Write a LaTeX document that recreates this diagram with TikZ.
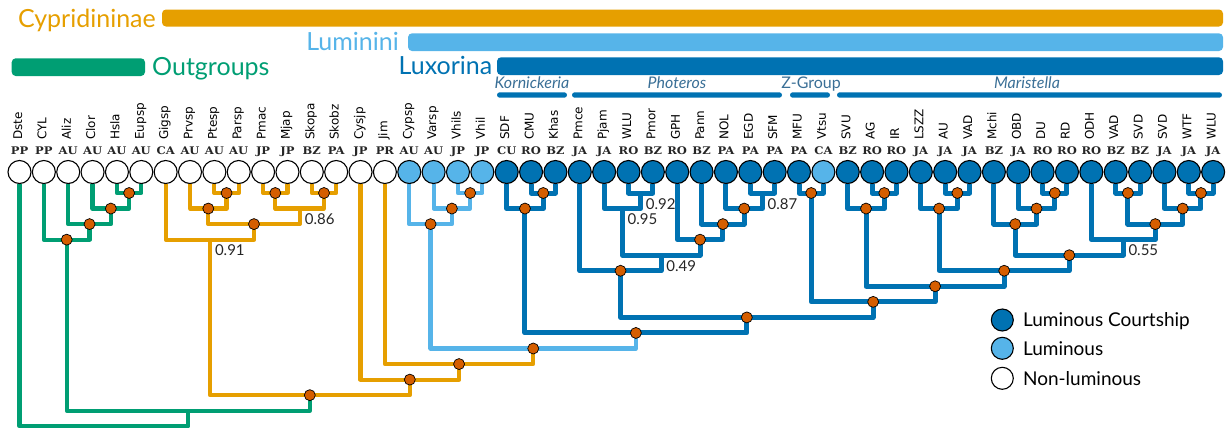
\documentclass[tikz,border=0pt]{standalone}
\usepackage{fontspec}
\setmainfont{Lato}
\newfontfamily\namefont{DejaVu Sans}
\newfontfamily\codefont{DejaVu Serif}[FakeStretch=1.1]
\usetikzlibrary{positioning,calc}

\definecolor{ogreen}{HTML}{009E73}
\definecolor{corange}{HTML}{E69F00}
\definecolor{lblue}{HTML}{56B4E9}
\definecolor{dblue}{HTML}{0072B2}
\definecolor{verm}{HTML}{D55E00}
\definecolor{subcol}{HTML}{3A6F96}
\definecolor{txtgray}{HTML}{262626}

\pgfdeclarelayer{bg}
\pgfsetlayers{bg,main}

% elbow between two children, node placed midway at a level
\newcommand\clade[5]{%
  \path let \p1=(#2), \p2=(#3), \p3=(0,{193+(#4-1)*15.55}) in
    ({(\x1+\x2)/2},\y3) coordinate (#1);
  \begin{pgfonlayer}{bg}
    \draw[branch,#5] (#2) |- (#1) -| (#3);
  \end{pgfonlayer}}

\begin{document}
\begin{tikzpicture}[x=1pt,y=-1pt,
  branch/.style={line width=4.2pt,line join=round},
  outbr/.style={draw=ogreen},
  cypbr/.style={draw=corange},
  lumbr/.style={draw=lblue},
  luxbr/.style={draw=dblue,line width=5pt},
  tipc/.style={circle,draw=black,line width=1.1pt,minimum size=23pt,inner sep=0pt},
  sdot/.style={circle,draw=black,line width=0.7pt,fill=verm,minimum size=11pt,inner sep=0pt},
  spname/.style={font=\namefont\fontsize{12}{14}\selectfont,rotate=90,anchor=mid west,inner sep=0pt},
  ccode/.style={font=\codefont\bfseries\fontsize{10.5}{12}\selectfont,anchor=base,inner sep=0pt,text=txtgray},
  supp/.style={font=\fontsize{15}{17}\selectfont,anchor=north west,inner sep=0pt,text=txtgray},
  hdr/.style={font=\fontsize{25}{28}\selectfont,inner sep=0pt},
  grp/.style={font=\fontsize{16}{18}\selectfont,anchor=base,inner sep=0pt,text=subcol},
  legtxt/.style={font=\fontsize{19}{21}\selectfont,inner sep=0pt,text height=13.5pt,text depth=0pt}]
  \useasboundingbox (0,0) rectangle (1226,429);

  % group bars
  \fill[corange,rounded corners=4pt] (162,9.5) rectangle (1223,26.5);
  \node[hdr,text=corange,anchor=base east] (cyph) at (156,27) {Cypridininae};
  \fill[lblue,rounded corners=4pt] (408,33.3) rectangle (1223,51);
  \node[hdr,text=lblue,anchor=base east] (lumh) at (399,50) {Luminini};
  \fill[dblue,rounded corners=4pt] (497,57.3) rectangle (1223,75);
  \node[hdr,text=dblue,anchor=base east] (luxh) at (492.5,74) {Luxorina};
  \fill[ogreen,rounded corners=4pt] (11.7,58.3) rectangle (145,76);
  \node[hdr,text=ogreen,anchor=base west] (outh) at (152,75) {Outgroups};

  \fill[dblue,rounded corners=2.7pt] (497,92.3) rectangle (567,97.7);
  \fill[dblue,rounded corners=2.7pt] (572,92.3) rectangle (782,97.7);
  \fill[dblue,rounded corners=2.7pt] (790,92.3) rectangle (830,97.7);
  \fill[dblue,rounded corners=2.7pt] (837,92.3) rectangle (1222,97.7);
  \node[grp] (korn) at (532,88.3) {\itshape Kornickeria};
  \node[grp] (phot) at (677,88.3) {\itshape Photeros};
  \node[grp] (zgrp) at (811,88.3) {Z-Group};
  \node[grp] (mari) at (1027,88.3) {\itshape Maristella};

  % tips
  \foreach \sp/\cc/\fc [count=\i] in {Dste/PP/white, CYL/PP/white, Aliz/AU/white,
      Clor/AU/white, Hsla/AU/white, Eupsp/AU/white, Gigsp/CA/white, Prvsp/AU/white,
      Ptesp/AU/white, Parsp/AU/white, Pmac/JP/white, Mjap/JP/white, Skopa/BZ/white,
      Skobz/PA/white, Cysjp/JP/white, Jim/PR/white, Cypsp/AU/lblue, Varsp/AU/lblue,
      Vhils/JP/lblue, Vhil/JP/lblue, SDF/CU/dblue, CMU/RO/dblue, Khas/BZ/dblue,
      Pmce/JA/dblue, Pjam/JA/dblue, WLU/RO/dblue, Pmor/BZ/dblue, GPH/RO/dblue,
      Pann/BZ/dblue, NOL/PA/dblue, EGD/PA/dblue, SFM/PA/dblue, MFU/PA/dblue,
      Vtsu/CA/lblue, SVU/BZ/dblue, AG/RO/dblue, IR/RO/dblue, LSZZ/JA/dblue,
      AU/JA/dblue, VAD/JA/dblue, Mchi/BZ/dblue, OBD/JA/dblue, DU/RO/dblue,
      RD/RO/dblue, ODH/RO/dblue, VAD/BZ/dblue, SVD/BZ/dblue, SVD/JA/dblue,
      WTF/JA/dblue, WLU/JA/dblue} {
    \node[tipc,fill=\fc] (t\i) at ({19.5+(\i-1)*24.36},172) {};
    \node[ccode] (c\i) at ({19.5+(\i-1)*24.36},154) {\cc};
    \node[spname] (s\i) at ({19.5+(\i-1)*24.36},140) {\sp};
  }

  % outgroups
  \clade{o1}{t5}{t6}{1}{outbr}
  \clade{o2}{t4}{o1}{2}{outbr}
  \clade{o3}{t3}{o2}{3}{outbr}
  \clade{o4}{t2}{o3}{4}{outbr}
  % Cypridininae
  \clade{c1}{t9}{t10}{1}{cypbr}
  \clade{c2}{t8}{c1}{2}{cypbr}
  \clade{c3}{t11}{t12}{1}{cypbr}
  \clade{c4}{t13}{t14}{1}{cypbr}
  \clade{c5}{c3}{c4}{2}{cypbr}
  \clade{c6}{c2}{c5}{3}{cypbr}
  \clade{c7}{t7}{c6}{4}{cypbr}
  % Luminini
  \clade{l1}{t19}{t20}{1}{lumbr}
  \clade{l2}{t18}{l1}{2}{lumbr}
  \clade{l3}{t17}{l2}{3}{lumbr}
  % Luxorina
  \clade{k1}{t22}{t23}{1}{luxbr}
  \clade{k2}{t21}{k1}{2}{luxbr}
  \clade{p1}{t26}{t27}{1}{luxbr}
  \clade{p2}{t25}{p1}{2}{luxbr}
  \clade{p3}{t31}{t32}{1}{luxbr}
  \clade{p4}{t30}{p3}{2}{luxbr}
  \clade{p5}{t29}{p4}{3}{luxbr}
  \clade{p6}{t28}{p5}{4}{luxbr}
  \clade{p7}{p2}{p6}{5}{luxbr}
  \clade{p8}{t24}{p7}{6}{luxbr}
  \clade{z1}{t33}{t34}{1}{luxbr}
  \clade{m1}{t36}{t37}{1}{luxbr}
  \clade{m2}{t35}{m1}{2}{luxbr}
  \clade{m3}{t39}{t40}{1}{luxbr}
  \clade{m4}{t38}{m3}{2}{luxbr}
  \clade{m5}{t43}{t44}{1}{luxbr}
  \clade{m6}{t42}{m5}{2}{luxbr}
  \clade{m10}{t41}{m6}{3}{luxbr}
  \clade{m13}{t46}{t47}{1}{luxbr}
  \clade{m15}{t49}{t50}{1}{luxbr}
  \clade{m14}{t48}{m15}{2}{luxbr}
  \clade{m12}{m13}{m14}{3}{luxbr}
  \clade{m11}{t45}{m12}{4}{luxbr}
  \clade{m9}{m10}{m11}{5}{luxbr}
  \clade{m8}{m4}{m9}{6}{luxbr}
  \clade{m7}{m2}{m8}{7}{luxbr}
  \clade{zm}{z1}{m7}{8}{luxbr}
  \clade{x9}{p8}{zm}{9}{luxbr}
  \clade{lux}{k2}{x9}{10}{luxbr}
  % backbone
  \clade{lum}{l3}{lux}{11}{lumbr}
  \clade{c9}{t16}{lum}{12}{cypbr}
  \clade{c8}{t15}{c9}{13}{cypbr}
  \clade{cyp}{c7}{c8}{14}{cypbr}
  \clade{og5}{o4}{cyp}{15}{outbr}
  \clade{root}{t1}{og5}{16}{outbr}

  \foreach \n in {o1,o2,o3,o4,c1,c2,c3,c4,c6,cyp,c8,c9,lum,l1,l2,l3,k1,k2,lux,
      p4,p5,p6,p8,x9,zm,z1,m1,m2,m3,m4,m5,m6,m7,m8,m9,m10,m12,m13,m14,m15}
    \node[sdot] (d\n) at (\n) {};

  % support values
  \node[supp] (v1) at ([xshift=5pt,yshift=-5pt]c5) {0.86};
  \node[supp] (v2) at ([xshift=5pt,yshift=-5pt]c7) {0.91};
  \node[supp] (v3) at ([xshift=5pt,yshift=-5pt]p1) {0.92};
  \node[supp] (v4) at ([xshift=5pt,yshift=-5pt]p2) {0.95};
  \node[supp] (v5) at ([xshift=5pt,yshift=-5pt]p7) {0.49};
  \node[supp] (v6) at ([xshift=5pt,yshift=-5pt]p3) {0.87};
  \node[supp] (v7) at ([xshift=5pt,yshift=-5pt]m11) {0.55};

  % legend
  \node[tipc,fill=dblue,minimum size=22pt] (lg1) at (1002.3,320) {};
  \node[tipc,fill=lblue,minimum size=22pt] (lg2) at (1002.3,348.3) {};
  \node[tipc,fill=white,minimum size=22pt] (lg3) at (1002.3,378.3) {};
  \node[legtxt,right=9pt of lg1] (lt1) {Luminous Courtship};
  \node[legtxt,right=9pt of lg2] (lt2) {Luminous};
  \node[legtxt,right=9pt of lg3] (lt3) {Non-luminous};
\end{tikzpicture}
\end{document}
